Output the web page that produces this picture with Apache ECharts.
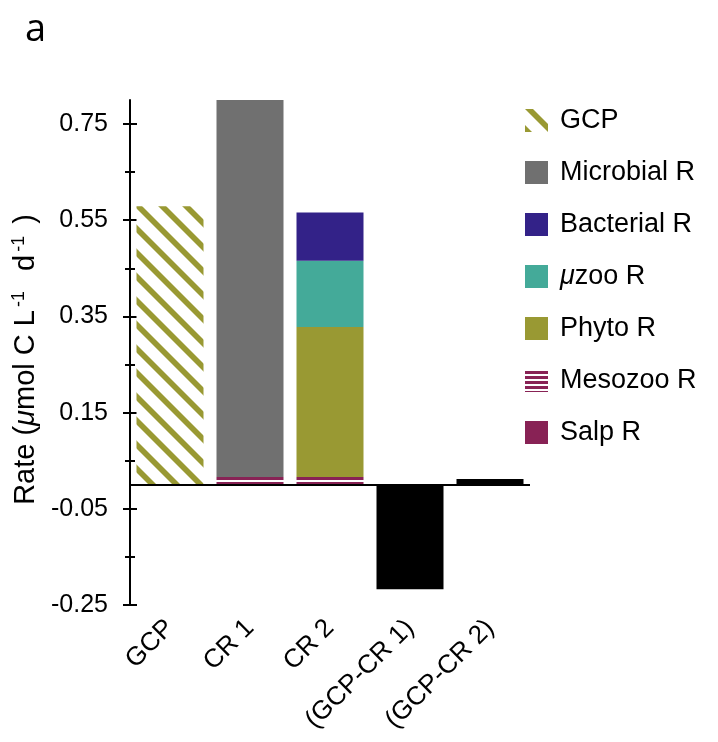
<!DOCTYPE html>
<html>
<head>
<meta charset="utf-8">
<script src="https://cdn.jsdelivr.net/npm/echarts@6/dist/echarts.min.js"></script>
<style>
html,body{margin:0;padding:0;background:#fff;}
#c{width:718px;height:742px;}
</style>
</head>
<body>
<div id="c"></div>
<script>
// ---- data ----
const categories = ['GCP', 'CR 1', 'CR 2', '(GCP-CR 1)', '(GCP-CR 2)'];
const gcpValues       = [0.579, '-', '-', '-', '-'];
const microbialValues = ['-', 0.784, '-', '-', '-'];
const bacterialValues = ['-', '-', 0.100, '-', '-'];
const uzooValues      = ['-', '-', 0.138, '-', '-'];
const phytoValues     = ['-', '-', 0.312, '-', '-'];
const mesozooValues   = ['-', 0.010, 0.010, '-', '-'];
const salpValues      = ['-', 0.006, 0.006, '-', '-'];
const diffValues      = ['-', '-', '-', -0.217, 0.012];
const majorTicks = [-0.25, -0.05, 0.15, 0.35, 0.55, 0.75];
const minorTicks = [-0.15, 0.05, 0.25, 0.45, 0.65];
const legendNames = ['GCP', 'Microbial R', 'Bacterial R', 'μzoo R', 'Phyto R', 'Mesozoo R', 'Salp R'];

// ---- patterns ----
function diagPattern(color) {
  const s = 24, cv = document.createElement('canvas');
  cv.width = s; cv.height = s;
  const g = cv.getContext('2d');
  g.fillStyle = '#fff'; g.fillRect(0, 0, s, s);
  g.fillStyle = color;
  for (const k of [-s, 0, s]) {
    g.beginPath();
    g.moveTo(k, 0); g.lineTo(k + 8, 0); g.lineTo(k + 8 + s, s); g.lineTo(k + s, s);
    g.closePath(); g.fill();
  }
  return cv;
}
function hStripePattern(color) {
  const cv = document.createElement('canvas');
  cv.width = 4; cv.height = 5;
  const g = cv.getContext('2d');
  g.fillStyle = '#fff'; g.fillRect(0, 0, 4, 5);
  g.fillStyle = color; g.fillRect(0, 2, 4, 3);
  return cv;
}

const FONT = 'Liberation Sans, Arial, Helvetica, sans-serif';
const olive = '#999933';
const wine = '#882255';

const yBase = { type: 'value', min: -0.25, max: 0.8, position: 'left', splitLine: { show: false } };

function barSeries(name, data, color) {
  return {
    name, type: 'bar', stack: 'total', data, barWidth: 67,
    itemStyle: { color }, emphasis: { disabled: true }
  };
}

const chart = echarts.init(document.getElementById('c'), null, { renderer: 'canvas' });
chart.setOption({
  animation: false,
  textStyle: { fontFamily: FONT, color: '#000' },
  graphic: [{
    type: 'text', left: 25, top: 11,
    style: { text: 'a', font: '38px "Open Sans", sans-serif', fill: '#000' }
  }],
  grid: { left: 130, right: 188, top: 100, bottom: 137, containLabel: false },
  legend: {
    data: legendNames, orient: 'vertical', left: 525, top: 107, padding: 0,
    itemWidth: 23, itemHeight: 23, itemGap: 25, icon: 'rect', selectedMode: false,
    formatter: n => n === 'μzoo R' ? '{it|μ}{n|zoo R}' : '{n|' + n + '}',
    textStyle: {
      fontSize: 27, color: '#000', fontFamily: FONT, padding: [0, 0, 0, 7],
      rich: {
        n: { fontSize: 27, color: '#000', fontFamily: FONT },
        it: { fontSize: 27, color: '#000', fontFamily: FONT, fontStyle: 'italic' }
      }
    }
  },
  xAxis: {
    type: 'category', data: categories,
    axisLine: { show: false, onZero: false }, axisTick: { show: false },
    axisLabel: { rotate: 45, fontSize: 26, color: '#000', margin: 19, interval: 0, fontFamily: FONT }
  },
  yAxis: [
    Object.assign({}, yBase, {
      axisLine: { show: true, lineStyle: { color: '#000', width: 2 } },
      axisTick: { show: true, inside: true, length: 7, customValues: majorTicks, lineStyle: { color: '#000', width: 2 } },
      axisLabel: { show: true, customValues: majorTicks, fontSize: 25, color: '#000', margin: 22, fontFamily: FONT,
        formatter: v => Number(v).toFixed(2) },
      name: '{n|Rate (}{it|μ}{n|mol C L}{s|-1}{n|  d}{s|-1}{n| )}',
      nameLocation: 'middle', nameGap: 84,
      nameTextStyle: {
        padding: [0, 14, 0, 0],
        rich: {
          n: { fontSize: 29, color: '#000', fontFamily: FONT, lineHeight: 32 },
          it: { fontSize: 29, color: '#000', fontFamily: FONT, fontStyle: 'italic', lineHeight: 32 },
          s: { fontSize: 18, color: '#000', fontFamily: FONT, verticalAlign: 'top', lineHeight: 32, padding: [0, 4, 0, 3] }
        }
      }
    }),
    Object.assign({}, yBase, {
      axisLine: { show: false },
      axisTick: { show: true, inside: false, length: 7, customValues: majorTicks, lineStyle: { color: '#000', width: 2 } },
      axisLabel: { show: false }
    }),
    Object.assign({}, yBase, {
      axisLine: { show: false },
      axisTick: { show: true, inside: false, length: 5, customValues: minorTicks, lineStyle: { color: '#000', width: 2 } },
      axisLabel: { show: false }
    }),
    Object.assign({}, yBase, {
      axisLine: { show: false },
      axisTick: { show: true, inside: true, length: 5, customValues: minorTicks, lineStyle: { color: '#000', width: 2 } },
      axisLabel: { show: false }
    })
  ],
  series: [
    barSeries('Salp R', salpValues, wine),
    barSeries('Mesozoo R', mesozooValues, { image: hStripePattern(wine), repeat: 'repeat' }),
    barSeries('Phyto R', phytoValues, olive),
    barSeries('μzoo R', uzooValues, '#44AA99'),
    barSeries('Bacterial R', bacterialValues, '#332288'),
    barSeries('Microbial R', microbialValues, '#707070'),
    barSeries('GCP', gcpValues, { image: diagPattern(olive), repeat: 'repeat' }),
    Object.assign(barSeries('diff', diffValues, '#000'), {
      markLine: {
        silent: true, symbol: 'none', label: { show: false },
        lineStyle: { color: '#000', width: 2, type: 'solid' },
        data: [{ yAxis: 0 }]
      }
    })
  ]
});
</script>
</body>
</html>
